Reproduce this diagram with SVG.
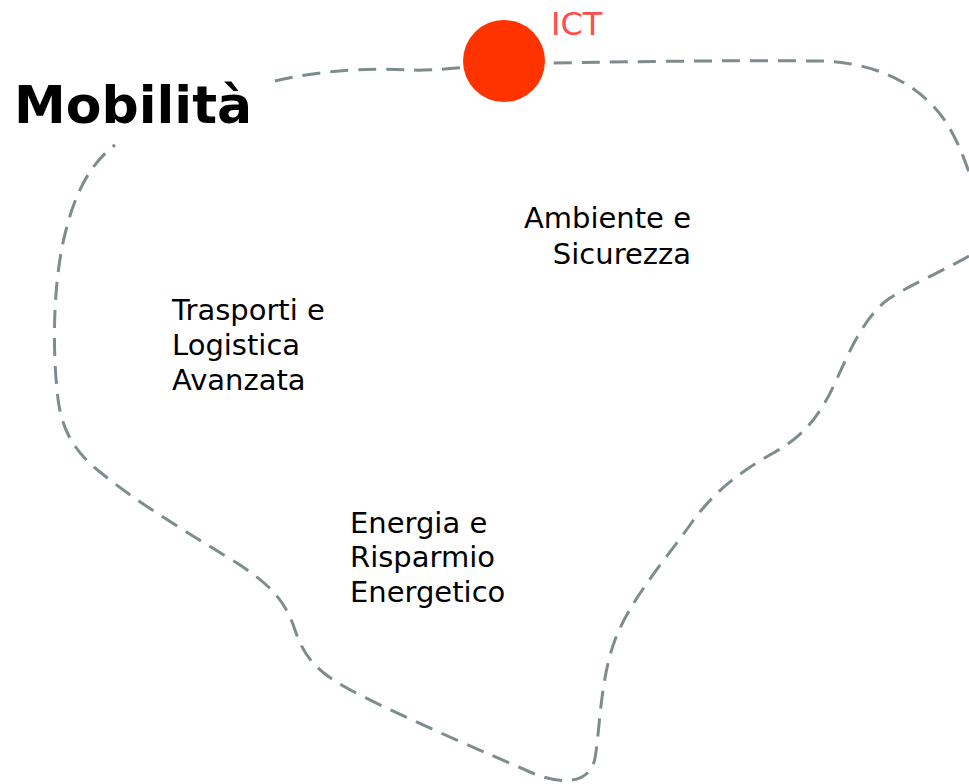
<svg xmlns="http://www.w3.org/2000/svg" width="969" height="784" viewBox="0 0 969 784">
<style>
.lbl{font-family:"DejaVu Sans","Verdana",sans-serif;font-size:29px;fill:#000}
.title{font-family:"DejaVu Sans","Verdana",sans-serif;font-size:52px;font-weight:bold;fill:#000}
.ict{font-family:"DejaVu Sans","Verdana",sans-serif;font-size:32px;fill:#ff4d4d}
.boundary{fill:none;stroke:#7f8c8d;stroke-width:3;stroke-dasharray:18 10;stroke-linecap:butt}
</style>
<rect width="969" height="784" fill="#fff"/>
<g id="connectors">
<path class="boundary" d="M 275 81 C 320 70, 370 68, 410 70 C 440 71, 470 66, 505 64 C 600 62, 720 60, 820 61 C 870 62, 910 80, 935 108 C 955 130, 965 160, 975 190 C 990 225, 990 245, 969 256 C 945 270, 910 285, 890 298 C 865 315, 850 350, 835 383 C 820 415, 805 435, 775 452 C 740 472, 715 490, 690 525 C 665 560, 630 600, 615 640 C 600 680, 600 730, 595 758 C 590 785, 560 785, 530 772 C 480 750, 420 725, 360 695 C 320 675, 305 660, 295 630 C 285 600, 270 585, 240 565 C 200 540, 140 505, 100 472 C 70 448, 60 425, 57 390 C 52 340, 54 275, 66 230 C 76 190, 92 162, 115 145"/>
</g>
<g id="title-mobilita">
<text class="title" x="14" y="123">Mobilità</text>
</g>
<g id="node-ict">
<circle cx="504" cy="61" r="41" fill="#ff3300"/>
<text class="ict" x="551" y="35">ICT</text>
</g>
<g id="node-ambiente">
<text class="lbl" text-anchor="end"><tspan x="691" y="228">Ambiente e</tspan><tspan x="691" y="264">Sicurezza</tspan></text>
</g>
<g id="node-trasporti">
<text class="lbl"><tspan x="172" y="320">Trasporti e</tspan><tspan x="172" y="355">Logistica</tspan><tspan x="172" y="390">Avanzata</tspan></text>
</g>
<g id="node-energia">
<text class="lbl"><tspan x="350" y="533">Energia e</tspan><tspan x="350" y="567">Risparmio</tspan><tspan x="350" y="602">Energetico</tspan></text>
</g>
</svg>
